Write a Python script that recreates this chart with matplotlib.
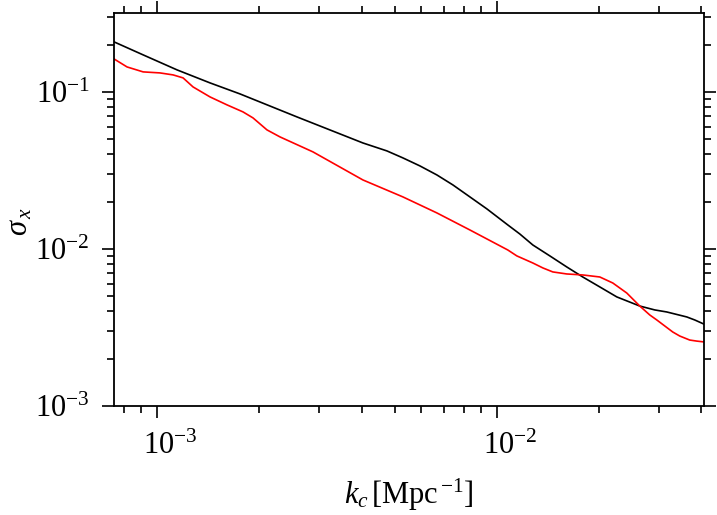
import matplotlib
matplotlib.use("Agg")
import matplotlib.pyplot as plt
import matplotlib.transforms as mtransforms

# ---- data ----
k_black = [7.47e-4, 9.10e-4, 1.145e-3, 1.432e-3, 1.754e-3, 2.581e-3, 4.035e-3,
           4.747e-3, 5.29e-3, 5.935e-3, 6.66e-3, 7.425e-3, 8.33e-3, 9.35e-3,
           1.077e-2, 1.168e-2, 1.276e-2, 1.432e-2, 1.606e-2, 1.790e-2,
           2.009e-2, 2.254e-2, 2.634e-2, 2.915e-2, 3.162e-2, 3.622e-2,
           3.823e-2, 4.06e-2]
sigma_black = [0.2083, 0.1721, 0.1381, 0.1141, 0.0971, 0.0693, 0.0473,
               0.0421, 0.0380, 0.0338, 0.0296, 0.02556, 0.02145, 0.01798,
               0.01422, 0.01246, 0.0106, 0.00903, 0.00768, 0.00663,
               0.00573, 0.00495, 0.00433, 0.00409, 0.00397, 0.00369,
               0.00353, 0.00333]

k_red = [7.47e-4, 8.16e-4, 9.10e-4, 1.020e-3, 1.115e-3, 1.193e-3, 1.276e-3,
         1.432e-3, 1.606e-3, 1.790e-3, 1.916e-3, 2.106e-3, 2.300e-3, 2.876e-3,
         4.035e-3, 5.29e-3, 6.66e-3, 8.33e-3, 1.077e-2, 1.145e-2, 1.276e-2,
         1.366e-2, 1.461e-2, 1.606e-2, 1.790e-2, 2.009e-2, 2.194e-2, 2.412e-2,
         2.634e-2, 2.818e-2, 2.956e-2, 3.293e-2, 3.453e-2, 3.695e-2,
         3.874e-2, 4.06e-2]
sigma_red = [0.1622, 0.1442, 0.1341, 0.1321, 0.1283, 0.1228, 0.1076,
             0.0929, 0.0827, 0.0746, 0.0683, 0.0573, 0.0517, 0.0415,
             0.0275, 0.02145, 0.01696, 0.01321, 0.00985, 0.00903, 0.00814,
             0.00757, 0.00714, 0.00693, 0.00683, 0.00663, 0.00607, 0.00524,
             0.00433, 0.0038, 0.00353, 0.00296, 0.00279, 0.00263,
             0.00259, 0.00256]

xlim = (7.47e-4, 4.07e-2)
ylim = (1e-3, 0.318)

plt.rcParams['font.family'] = ['Liberation Serif', 'DejaVu Serif']
plt.rcParams['mathtext.fontset'] = 'custom'
plt.rcParams['mathtext.rm'] = 'Liberation Serif'
plt.rcParams['mathtext.it'] = 'Liberation Serif:italic'
plt.rcParams['mathtext.bf'] = 'Liberation Serif:bold'

fig = plt.figure(figsize=(7.17, 5.15), dpi=100)
ax = fig.add_axes([114/717, 1 - 406/515, (704-114)/717, (406-13)/515])

ax.plot(k_black, sigma_black, color='black', lw=1.2)
ax.plot(k_red, sigma_red, color='#ff0000', lw=1.2)

ax.set_xscale('log')
ax.set_yscale('log')
ax.set_xlim(*xlim)
ax.set_ylim(*ylim)

for s in ax.spines.values():
    s.set_linewidth(1.3)

ax.tick_params(which='both', direction='out', top=True, right=True,
               width=1.2, labelsize=22)
ax.tick_params(which='major', length=8.5, pad=9)
ax.tick_params(which='minor', length=5)
ax.tick_params(axis='x', which='major', pad=10)

fig.canvas.draw()
offset = mtransforms.ScaledTranslation(0.13, 0, fig.dpi_scale_trans)
for lab in ax.get_xticklabels():
    lab.set_transform(lab.get_transform() + offset)

ax.set_xlabel(r'$k_c\,$[Mpc$^{\,\mathregular{-1}}$]', fontsize=22)
ax.xaxis.set_label_coords(0.5, -0.18)
ax.xaxis.label.set_va('top')

ax.set_ylabel(r'$\sigma_{\,x}$', fontsize=22)
ax.yaxis.set_label_coords(-0.135, 0.47)

fig.savefig('out.png', dpi=100)
